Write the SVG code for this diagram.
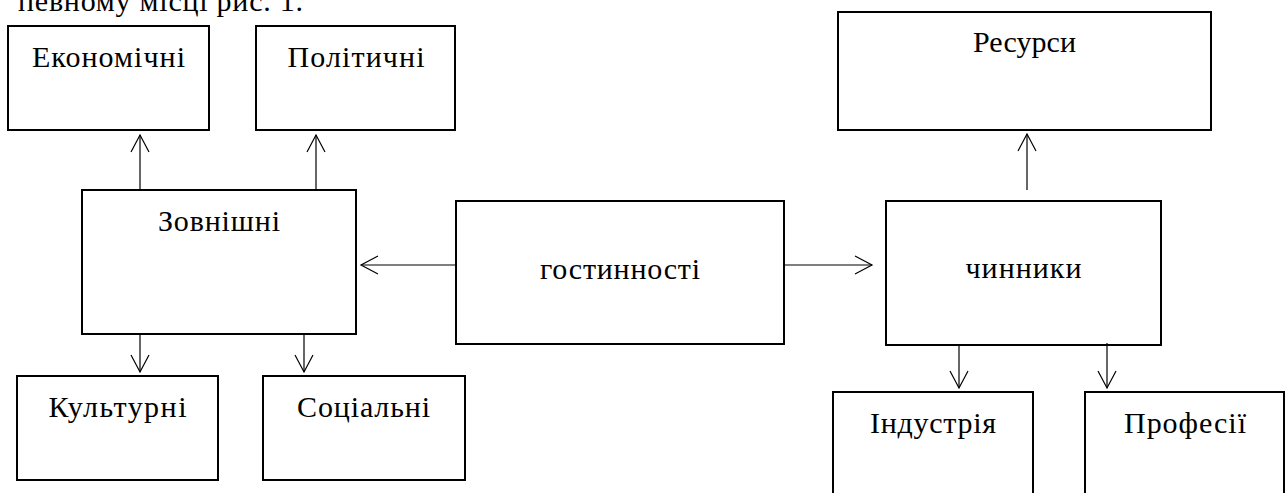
<svg xmlns="http://www.w3.org/2000/svg" width="1285" height="493" viewBox="0 0 1285 493">
<defs>
<style>
.box{fill:#fff;stroke:#000;stroke-width:2}
.lbl{font-family:"Liberation Serif","Times New Roman",serif;font-size:30px;fill:#000;text-anchor:middle}
.top{font-family:"Liberation Serif","Times New Roman",serif;font-size:30px;fill:#000}
.con{stroke:#000;stroke-width:1.2;fill:none}
</style>
<marker id="arr" viewBox="0 0 20 20" refX="18" refY="10" markerWidth="20" markerHeight="20" markerUnits="userSpaceOnUse" orient="auto">
<path d="M1,1 L18,10 L1,19" fill="none" stroke="#000" stroke-width="1.2"/>
</marker>
</defs>
<rect width="1285" height="493" fill="#fff"/>
<text class="top" x="18" y="11" textLength="285" lengthAdjust="spacing">певному місці рис. 1.</text>
<g id="n-ekon"><rect class="box" x="8" y="26" width="201" height="104"/><text class="lbl" x="108.5" y="67" textLength="153" lengthAdjust="spacing">Економічні</text></g>
<g id="n-polit"><rect class="box" x="256" y="26" width="199" height="104"/><text class="lbl" x="356" y="67" textLength="137" lengthAdjust="spacing">Політичні</text></g>
<g id="n-zovn"><rect class="box" x="82" y="190" width="274" height="144"/><text class="lbl" x="219" y="231" textLength="122" lengthAdjust="spacing">Зовнішні</text></g>
<g id="n-kult"><rect class="box" x="17" y="376" width="201" height="104"/><text class="lbl" x="117.5" y="417" textLength="138" lengthAdjust="spacing">Культурні</text></g>
<g id="n-soc"><rect class="box" x="263" y="376" width="202" height="104"/><text class="lbl" x="363.5" y="417" textLength="133" lengthAdjust="spacing">Соціальні</text></g>
<g id="n-gost"><rect class="box" x="456" y="201" width="328" height="143"/><text class="lbl" x="620" y="279" textLength="160" lengthAdjust="spacing">гостинності</text></g>
<g id="n-chyn"><rect class="box" x="886" y="201" width="275" height="144"/><text class="lbl" x="1023.5" y="278" textLength="116" lengthAdjust="spacing">чинники</text></g>
<g id="n-res"><rect class="box" x="838" y="12" width="373" height="118"/><text class="lbl" x="1024.5" y="52" textLength="103" lengthAdjust="spacing">Ресурси</text></g>
<g id="n-ind"><rect class="box" x="833" y="392" width="200" height="110"/><text class="lbl" x="933" y="433" textLength="126" lengthAdjust="spacing">Індустрія</text></g>
<g id="n-prof"><rect class="box" x="1085" y="392" width="199" height="110"/><text class="lbl" x="1185" y="433" textLength="122" lengthAdjust="spacing">Професії</text></g>
<g id="connectors">
<line class="con" x1="140" y1="190" x2="140" y2="135" marker-end="url(#arr)"/>
<line class="con" x1="316" y1="190" x2="316" y2="135" marker-end="url(#arr)"/>
<line class="con" x1="140" y1="334" x2="140" y2="372" marker-end="url(#arr)"/>
<line class="con" x1="304" y1="334" x2="304" y2="372" marker-end="url(#arr)"/>
<line class="con" x1="456" y1="265" x2="361" y2="265" marker-end="url(#arr)"/>
<line class="con" x1="784" y1="265" x2="872" y2="265" marker-end="url(#arr)"/>
<line class="con" x1="1027" y1="190" x2="1027" y2="134" marker-end="url(#arr)"/>
<line class="con" x1="959" y1="345" x2="959" y2="388" marker-end="url(#arr)"/>
<line class="con" x1="1107" y1="343" x2="1107" y2="388" marker-end="url(#arr)"/>
</g>
</svg>
